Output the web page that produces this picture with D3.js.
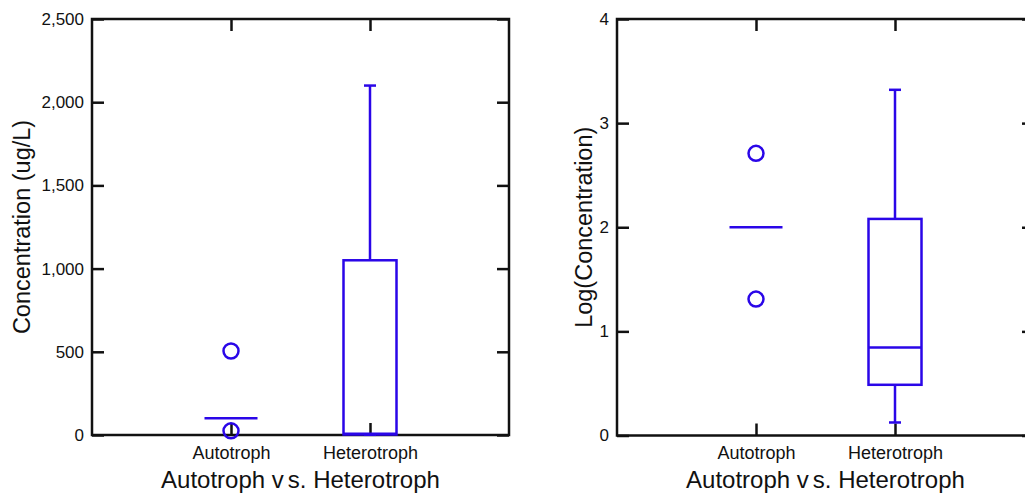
<!DOCTYPE html>
<html>
<head>
<meta charset="utf-8">
<script src="https://cdn.jsdelivr.net/npm/d3@7"></script>
<style>
  html, body { margin: 0; padding: 0; background: #fff; }
  svg { display: block; }
  text { font-family: "Liberation Sans", Arial, sans-serif; fill: #111; }
</style>
</head>
<body>
<svg id="chart" width="1025" height="494"></svg>
<script>
// ---- data ----
const categories = ["Autotroph", "Heterotroph"];
const xTitleParts = ["Autotroph v", "s. Heterotroph"];

// Left panel: linear concentration (ug/L)
const linTicks = [0, 500, 1000, 1500, 2000, 2500];
const linMedian = [100, 7];
const linQ1 = [null, 3];
const linQ3 = [null, 1050];
const linWhiskLow = [null, 1.3];
const linWhiskHigh = [null, 2100];
const linOutliers = [[505, 25], []];

// Right panel: log10 concentration
const logTicks = [0, 1, 2, 3, 4];
const logMedian = [2.0, 0.845];
const logQ1 = [null, 0.487];
const logQ3 = [null, 2.08];
const logWhiskLow = [null, 0.125];
const logWhiskHigh = [null, 3.32];
const logOutliers = [[2.71, 1.31], []];

const blue = "#2a06e8";
const svg = d3.select("#chart");

function panel(opt) {
  const {x0, x1, y0, y1, domain, ticks, fmt, yTitle, yTitleX,
         median, q1, q3, wl, wh, outliers} = opt;
  const g = svg.append("g");
  const x = d3.scalePoint().domain(categories).range([x0, x1]).padding(1);
  const y = d3.scaleLinear().domain(domain).range([y1, y0]);
  const tick = 12;

  const ax = g.append("g").attr("transform", `translate(${x0},0)`)
    .call(d3.axisLeft(y).tickValues(ticks).tickFormat(fmt)
      .tickSizeInner(-tick).tickSizeOuter(0).tickPadding(8));
  const ar = g.append("g").attr("transform", `translate(${x1},0)`)
    .call(d3.axisRight(y).tickValues(ticks).tickFormat("")
      .tickSizeInner(-tick).tickSizeOuter(0));
  const at = g.append("g").attr("transform", `translate(0,${y0})`)
    .call(d3.axisTop(x).tickFormat("").tickSizeInner(-tick).tickSizeOuter(0));
  const ab = g.append("g").attr("transform", `translate(0,${y1})`)
    .call(d3.axisBottom(x).tickSizeInner(-tick).tickSizeOuter(0).tickPadding(11));

  [ax, ar, at, ab].forEach(a => {
    a.select(".domain").remove();
    a.selectAll(".tick line").attr("stroke", "#111").attr("stroke-width", 2.5);
  });
  ax.selectAll("text").attr("font-size", 17).attr("fill", "#111")
    .attr("font-family", "Liberation Sans, Arial, sans-serif");
  ab.selectAll("text").attr("font-size", 18).attr("fill", "#111")
    .attr("font-family", "Liberation Sans, Arial, sans-serif");

  g.append("rect").attr("x", x0).attr("y", y0)
    .attr("width", x1 - x0).attr("height", y1 - y0)
    .attr("fill", "none").attr("stroke", "#111").attr("stroke-width", 2.5);

  const bw = 53, cap = 12;
  const marks = g.append("g").attr("fill", "none").attr("stroke", blue).attr("stroke-width", 2.5);
  categories.forEach((c, i) => {
    const cx = x(c);
    if (q1[i] != null) {
      marks.append("line").attr("x1", cx).attr("x2", cx).attr("y1", y(q3[i])).attr("y2", y(wh[i]));
      marks.append("line").attr("x1", cx - cap/2).attr("x2", cx + cap/2).attr("y1", y(wh[i])).attr("y2", y(wh[i]));
      marks.append("line").attr("x1", cx).attr("x2", cx).attr("y1", y(q1[i])).attr("y2", y(wl[i]));
      marks.append("line").attr("x1", cx - cap/2).attr("x2", cx + cap/2).attr("y1", y(wl[i])).attr("y2", y(wl[i]));
      marks.append("rect").attr("x", cx - bw/2).attr("width", bw)
        .attr("y", y(q3[i])).attr("height", y(q1[i]) - y(q3[i]));
    }
    marks.append("line").attr("x1", cx - bw/2).attr("x2", cx + bw/2)
      .attr("y1", y(median[i])).attr("y2", y(median[i]));
    outliers[i].forEach(v => {
      marks.append("circle").attr("cx", cx).attr("cy", y(v)).attr("r", 7.5);
    });
  });

  const t = g.append("text").attr("x", (x0 + x1) / 2).attr("y", 488)
    .attr("text-anchor", "middle").attr("font-size", 24);
  t.append("tspan").text(xTitleParts[0]);
  t.append("tspan").attr("dx", 4).text(xTitleParts[1]);
  g.append("text").attr("transform", `translate(${yTitleX},${(y0 + y1) / 2}) rotate(-90)`)
    .attr("text-anchor", "middle").attr("font-size", 23.5).text(yTitle);
}

panel({x0: 92, x1: 509, y0: 19, y1: 435, domain: [0, 2500], ticks: linTicks,
  fmt: d3.format(","), yTitle: "Concentration (ug/L)", yTitleX: 30,
  median: linMedian, q1: linQ1, q3: linQ3, wl: linWhiskLow, wh: linWhiskHigh, outliers: linOutliers});

panel({x0: 617, x1: 1034, y0: 19, y1: 435.5, domain: [0, 4], ticks: logTicks,
  fmt: d3.format("d"), yTitle: "Log(Concentration)", yTitleX: 592,
  median: logMedian, q1: logQ1, q3: logQ3, wl: logWhiskLow, wh: logWhiskHigh, outliers: logOutliers});
</script>
</body>
</html>
